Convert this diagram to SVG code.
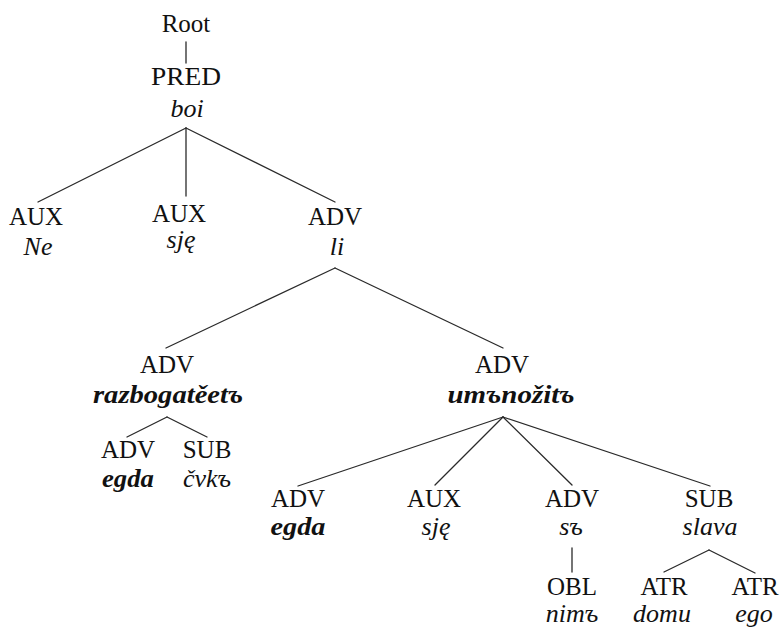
<svg xmlns="http://www.w3.org/2000/svg" width="783" height="628" viewBox="0 0 783 628">
  <style>
    .lab { font-family: "Liberation Serif", "DejaVu Serif", serif; font-size: 25px; fill: #111; text-anchor: middle; }
    .wd { font-family: "Liberation Serif", "DejaVu Serif", serif; font-size: 26px; font-style: italic; fill: #111; text-anchor: middle; }
    .bd { font-weight: bold; }
    .edge { stroke: #2a2a2a; stroke-width: 1.3; fill: none; stroke-linecap: round; }
  </style>
  <rect width="783" height="628" fill="#ffffff"/>

  <g id="connectors">
    <line class="edge" x1="186" y1="42" x2="186" y2="63"/>
    <line class="edge" x1="186" y1="128" x2="38" y2="202"/>
    <line class="edge" x1="186" y1="128" x2="186" y2="196"/>
    <line class="edge" x1="186" y1="128" x2="335" y2="202"/>
    <line class="edge" x1="335" y1="268" x2="166" y2="348"/>
    <line class="edge" x1="335" y1="268" x2="503" y2="348"/>
    <line class="edge" x1="167" y1="417" x2="127" y2="437"/>
    <line class="edge" x1="167" y1="417" x2="207" y2="437"/>
    <line class="edge" x1="503" y1="417" x2="298" y2="486"/>
    <line class="edge" x1="503" y1="417" x2="435" y2="485"/>
    <line class="edge" x1="503" y1="417" x2="572" y2="485"/>
    <line class="edge" x1="503" y1="417" x2="710" y2="486"/>
    <line class="edge" x1="572" y1="548" x2="572" y2="572"/>
    <line class="edge" x1="709" y1="550" x2="664" y2="572"/>
    <line class="edge" x1="709" y1="550" x2="755" y2="573"/>
  </g>

  <g id="root">
    <text class="lab" x="186" y="32">Root</text>
  </g>
  <g id="pred-boi">
    <text class="lab" x="186" y="85" textLength="70" lengthAdjust="spacingAndGlyphs">PRED</text>
    <text class="wd" x="187" y="117">boi</text>
  </g>
  <g id="aux-ne">
    <text class="lab" x="36" y="225">AUX</text>
    <text class="wd" x="38" y="255">Ne</text>
  </g>
  <g id="aux-sje-1">
    <text class="lab" x="179" y="222">AUX</text>
    <text class="wd" x="181" y="248">sję</text>
  </g>
  <g id="adv-li">
    <text class="lab" x="335" y="225">ADV</text>
    <text class="wd" x="337" y="255">li</text>
  </g>
  <g id="adv-razbogateet">
    <text class="lab" x="167" y="373">ADV</text>
    <text class="wd bd" x="168" y="403" textLength="150" lengthAdjust="spacingAndGlyphs">razbogatěetъ</text>
  </g>
  <g id="adv-umnozit">
    <text class="lab" x="502" y="373">ADV</text>
    <text class="wd bd" x="511" y="403" textLength="127" lengthAdjust="spacingAndGlyphs">umъnožitъ</text>
  </g>
  <g id="adv-egda-1">
    <text class="lab" x="128" y="458">ADV</text>
    <text class="wd bd" x="128" y="487" textLength="52" lengthAdjust="spacingAndGlyphs">egda</text>
  </g>
  <g id="sub-cvk">
    <text class="lab" x="207" y="458">SUB</text>
    <text class="wd" x="207" y="487">čvkъ</text>
  </g>
  <g id="adv-egda-2">
    <text class="lab" x="298" y="507">ADV</text>
    <text class="wd bd" x="298" y="535" textLength="55" lengthAdjust="spacingAndGlyphs">egda</text>
  </g>
  <g id="aux-sje-2">
    <text class="lab" x="434" y="507">AUX</text>
    <text class="wd" x="436" y="535">sję</text>
  </g>
  <g id="adv-s">
    <text class="lab" x="572" y="507">ADV</text>
    <text class="wd" x="571" y="535">sъ</text>
  </g>
  <g id="sub-slava">
    <text class="lab" x="709" y="507">SUB</text>
    <text class="wd" x="710" y="535">slava</text>
  </g>
  <g id="obl-nim">
    <text class="lab" x="572" y="595">OBL</text>
    <text class="wd" x="572" y="622">nimъ</text>
  </g>
  <g id="atr-domu">
    <text class="lab" x="664" y="595">ATR</text>
    <text class="wd" x="662" y="622">domu</text>
  </g>
  <g id="atr-ego">
    <text class="lab" x="755" y="595">ATR</text>
    <text class="wd" x="754" y="622">ego</text>
  </g>
</svg>
